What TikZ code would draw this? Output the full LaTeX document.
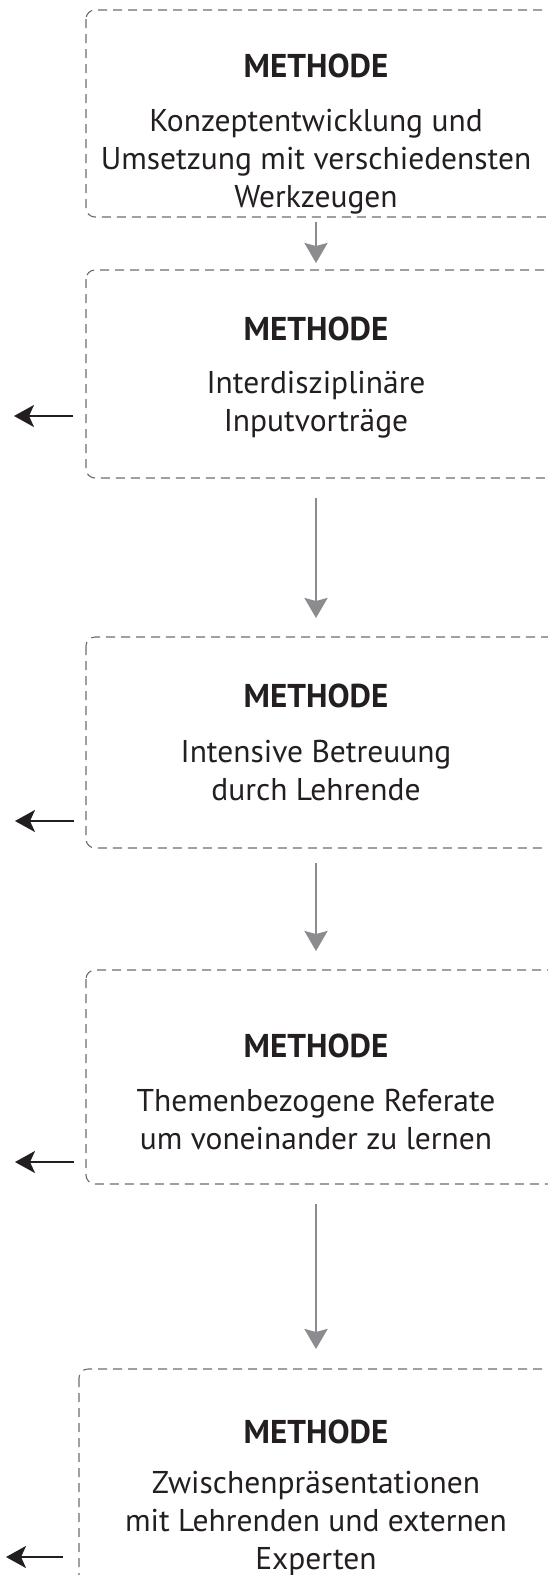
\documentclass[tikz,border=0pt]{standalone}
\usepackage{fontspec}
\setmainfont{PT Sans}
\usetikzlibrary{arrows.meta}
\definecolor{dashgray}{HTML}{6E6E70}
\definecolor{arrgray}{HTML}{8C8C90}
\definecolor{ink}{HTML}{231F20}
\tikzset{
  methbox/.style={draw=dashgray, line width=1.1pt, dash pattern=on 9pt off 6pt, rounded corners=9pt},
  titletext/.style={font=\fontsize{33}{38}\selectfont\bfseries, text=ink, inner sep=0pt},
  bodytext/.style={font=\fontsize{31.5}{38}\selectfont, text=ink, align=center, inner sep=0pt},
  downarrow/.style={draw=arrgray, line width=2.6pt, -{Stealth[length=20pt,width=23pt,inset=3pt]}},
  sidearrow/.style={draw=ink, line width=2.2pt, -{Stealth[length=20pt,width=22pt,inset=5pt]}}
}
\begin{document}
\begin{tikzpicture}[x=1pt,y=-1pt]
\path[use as bounding box, clip] (0,0) rectangle (548,1575);
\fill[white] (0,0) rectangle (548,1575);
% boxes
\draw[methbox] (86,10) rectangle (620,217);
\draw[methbox] (86,270) rectangle (620,478);
\draw[methbox] (86,637) rectangle (620,848);
\draw[methbox] (86,970) rectangle (620,1184);
\draw[methbox] (79,1369) rectangle (620,1640);
% titles
\node[titletext] (t1) at (316,66) {METHODE};
\node[titletext] (t2) at (316,329) {METHODE};
\node[titletext] (t3) at (316,696) {METHODE};
\node[titletext] (t4) at (316,1046) {METHODE};
\node[titletext] (t5) at (316,1432) {METHODE};
% bodies
\node[bodytext] (b1) at (316,162) {Konzeptentwicklung und\\Umsetzung mit verschiedensten\\Werkzeugen};
\node[bodytext] (b2) at (316,405) {Interdisziplinäre\\Inputvorträge};
\node[bodytext] (b3) at (316,771) {Intensive Betreuung\\durch Lehrende};
\node[bodytext] (b4) at (316,1120) {Themenbezogene Referate\\um voneinander zu lernen};
\node[bodytext] (b5) at (316,1523) {Zwischenpräsentationen\\mit Lehrenden und externen\\Experten};
% down arrow coordinates
\coordinate (d1s) at (316,222); \coordinate (d1e) at (316,263);
\coordinate (d2s) at (316,498); \coordinate (d2e) at (316,618);
\coordinate (d3s) at (316,863); \coordinate (d3e) at (316,951);
\coordinate (d4s) at (316,1204); \coordinate (d4e) at (316,1349);
\draw[downarrow] (d1s) -- (d1e);
\draw[downarrow] (d2s) -- (d2e);
\draw[downarrow] (d3s) -- (d3e);
\draw[downarrow] (d4s) -- (d4e);
% side arrows
\coordinate (s2s) at (73,416); \coordinate (s2e) at (14,416);
\coordinate (s3s) at (74,821); \coordinate (s3e) at (15,821);
\coordinate (s4s) at (74,1162); \coordinate (s4e) at (15,1162);
\coordinate (s5s) at (63,1557); \coordinate (s5e) at (6,1557);
\draw[sidearrow] (s2s) -- (s2e);
\draw[sidearrow] (s3s) -- (s3e);
\draw[sidearrow] (s4s) -- (s4e);
\draw[sidearrow] (s5s) -- (s5e);
\end{tikzpicture}
\end{document}
